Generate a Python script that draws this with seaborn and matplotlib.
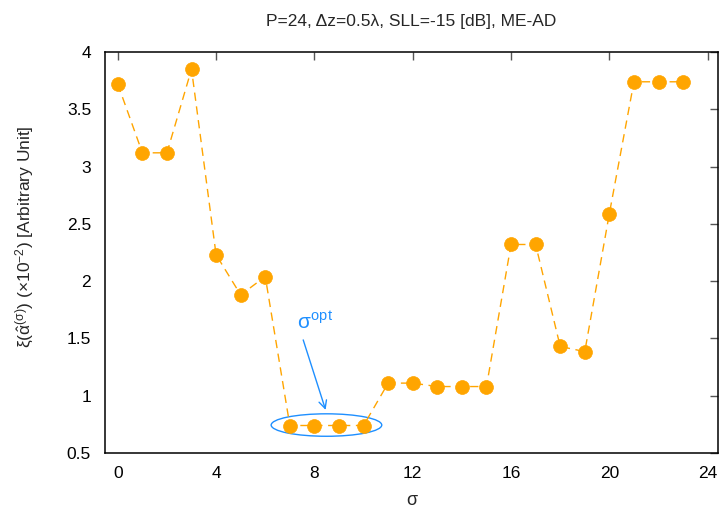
import matplotlib
matplotlib.use("Agg")
import matplotlib.pyplot as plt
from matplotlib.patches import Ellipse
import seaborn as sns
import pandas as pd

sigma = list(range(24))
xi = [3.72, 3.12, 3.12, 3.85, 2.23, 1.88, 2.04, 0.74, 0.74, 0.74, 0.74,
      1.11, 1.11, 1.08, 1.08, 1.08, 2.32, 2.32, 1.43, 1.385, 2.59, 3.74, 3.74, 3.74]
xticks = [0, 4, 8, 12, 16, 20, 24]
yticks = [0.5, 1, 1.5, 2, 2.5, 3, 3.5, 4]

sns.set_style("white")
plt.rcParams['font.family'] = ['Liberation Sans', 'DejaVu Sans']
plt.rcParams['mathtext.fontset'] = 'custom'
plt.rcParams['mathtext.rm'] = 'Liberation Sans'
plt.rcParams['mathtext.it'] = 'Liberation Sans'
plt.rcParams['mathtext.bf'] = 'Liberation Sans:bold'

df = pd.DataFrame({"sigma": sigma, "xi": xi})

fig = plt.figure(figsize=(7.2, 5.11), dpi=100)
ax = fig.add_axes([105/720, 1-453/511, 613/720, 401/511])

sns.lineplot(data=df, x="sigma", y="xi", ax=ax, color="#FFA500", lw=1.0,
             linestyle=(0, (6, 4)), marker="o", markersize=10,
             markeredgecolor="#FFA500", markeredgewidth=0.5)

ax.set_xlim(-0.52, 24.42)
ax.set_ylim(0.5, 4.0)
ax.set_xticks(xticks)
ax.set_yticks(yticks)
ax.set_xticklabels([str(t) for t in xticks])
ax.set_yticklabels([f"{t:g}" for t in yticks])
ax.tick_params(axis='both', which='major', direction='in', length=6, width=1,
               colors='#555555', labelcolor='black', labelsize=12.5,
               top=True, right=True)
ax.tick_params(axis='x', pad=9)
ax.tick_params(axis='y', pad=10)
for s in ax.spines.values():
    s.set_linewidth(1.1)
    s.set_color('black')
    s.set_visible(True)

ax.set_title('P=24, Δz=0.5λ, SLL=-15 [dB], ME-AD', fontsize=12.5, pad=19)
ax.set_xlabel('σ', fontsize=13)
ax.set_ylabel(r'$\xi(\hat{\alpha}^{(\sigma)})$ ($\times$10$^{-2}$) [Arbitrary Unit]', fontsize=12.5)
ax.xaxis.set_label_coords(0.5, -0.098)
ax.yaxis.set_label_coords(-0.112, 0.54)

blue = '#1E8FFF'
ax.add_patch(Ellipse((8.49, 0.744), 4.5, 0.196, fill=False, edgecolor=blue, lw=1.0))
ax.annotate('', xy=(8.49, 0.853), xytext=(7.51, 1.51),
            arrowprops=dict(arrowstyle='->', color=blue, lw=1.0, mutation_scale=14))
ax.text(7.28, 1.585, r'$\sigma^{\mathrm{opt}}$', color=blue, fontsize=15,
        ha='left', va='baseline')

fig.savefig('out.png', dpi=100)
